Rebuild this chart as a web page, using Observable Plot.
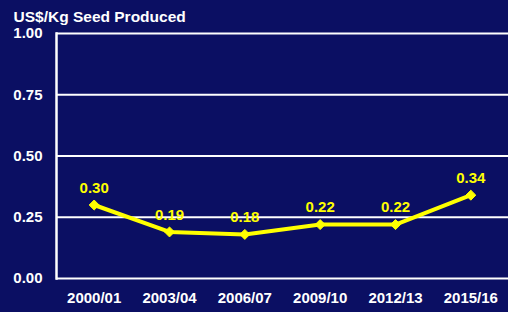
<!DOCTYPE html>
<html>
<head>
<meta charset="utf-8">
<script src="https://cdn.jsdelivr.net/npm/d3@7"></script>
<script src="https://cdn.jsdelivr.net/npm/@observablehq/plot@0.6"></script>
<style>
  html, body { margin: 0; padding: 0; background: #0b0f63; }
  #chart svg { display: block; }
</style>
</head>
<body>
<div id="chart"></div>
<script>
const periods = ["2000/01", "2003/04", "2006/07", "2009/10", "2012/13", "2015/16"];
const values = [0.30, 0.19, 0.18, 0.22, 0.22, 0.34];
const labels = ["0.30", "0.19", "0.18", "0.22", "0.22", "0.34"];
const yTicks = [0, 0.25, 0.5, 0.75, 1];
const title = "US$/Kg Seed Produced";

const data = periods.map((p, i) => ({period: p, value: values[i], label: labels[i]}));

const chart = Plot.plot({
  width: 508,
  height: 312,
  marginLeft: 56,
  marginRight: 0,
  marginTop: 33,
  marginBottom: 34,
  style: {background: "#0b0f63", color: "#ffffff", fontFamily: "Liberation Sans, Arial, sans-serif", fontWeight: "bold", fontSize: "15px"},
  x: {type: "point", domain: periods, padding: 0.5, round: false, label: null},
  y: {domain: [0, 1], label: null},
  marks: [
    Plot.ruleY(yTicks, {stroke: "#ffffff", strokeWidth: 2, strokeOpacity: 1}),
    Plot.frame({anchor: "left", stroke: "#ffffff", strokeWidth: 2.5}),
    Plot.axisY({ticks: yTicks, tickFormat: d3.format(".2f"), tickSize: 0, tickPadding: 14, fill: "#ffffff", fontSize: 15, fontWeight: "bold"}),
    Plot.axisX({tickSize: 0, tickPadding: 14, fill: "#ffffff", fontSize: 15, fontWeight: "bold"}),
    Plot.line(data, {x: "period", y: "value", stroke: "#ffff00", strokeWidth: 4}),
    Plot.dot(data, {x: "period", y: "value", symbol: "diamond2", r: 4.5, fill: "#ffff00", stroke: "#ffff00", strokeWidth: 1}),
    Plot.text(data, {x: "period", y: "value", text: "label", dy: -17, fill: "#ffff00", fontSize: 15, fontWeight: "bold"}),
    Plot.text([title], {frameAnchor: "top-left", dx: -43, dy: -16, lineAnchor: "middle", textAnchor: "start", fill: "#ffffff", fontSize: 15.5, fontWeight: "bold"})
  ]
});
document.getElementById("chart").append(chart);
</script>
</body>
</html>
